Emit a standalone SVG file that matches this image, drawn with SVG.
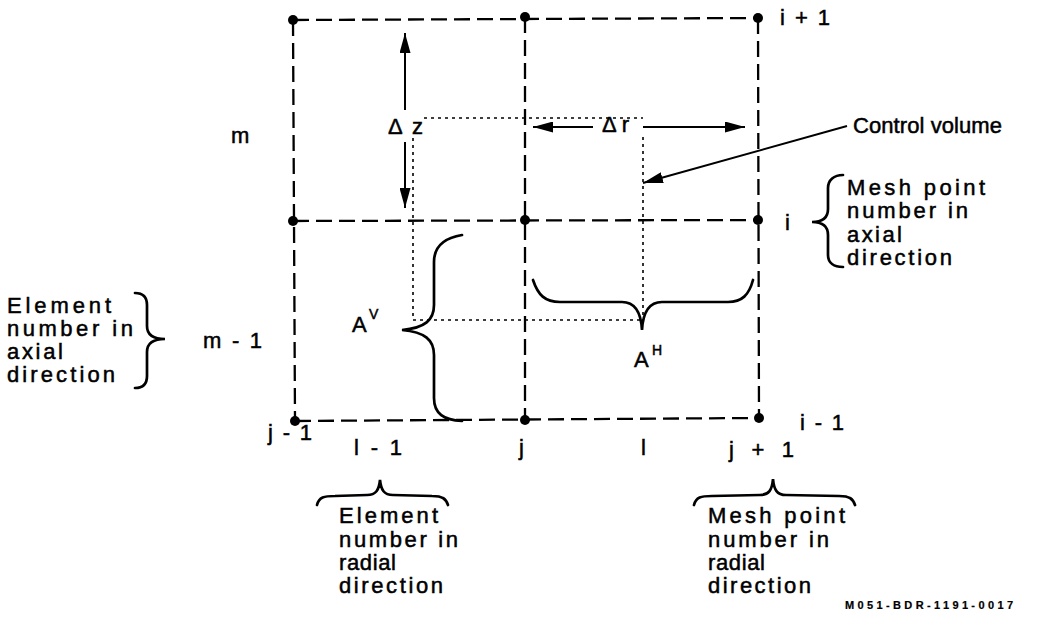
<svg xmlns="http://www.w3.org/2000/svg" width="1048" height="619" viewBox="0 0 1048 619">
<style>
text{font-family:"Liberation Sans",Arial,sans-serif;font-size:22px;fill:#000;stroke:#000;stroke-width:0.5}
.sup{font-size:14px}
.id{font-size:11px;font-weight:bold;stroke-width:0.2}
.grid{stroke:#000;stroke-width:2.3;stroke-dasharray:16 7;fill:none}
.dot{stroke:#000;stroke-width:1.6;stroke-dasharray:3 4;fill:none}
.brace{stroke:#000;stroke-width:2.7;fill:none;stroke-linecap:round}
.arr{stroke:#000;stroke-width:2;fill:none;marker-end:url(#ah)}
.node{fill:#000}
</style>
<defs>
<marker id="ah" markerWidth="20" markerHeight="11" refX="20" refY="5.5" orient="auto" markerUnits="userSpaceOnUse">
<path d="M0,0 L20,5.5 L0,11 z" fill="#000"/>
</marker>
</defs>
<rect width="1048" height="619" fill="#fff"/>
<g id="grid">
<line class="grid" x1="293" y1="20" x2="758" y2="18"/>
<line class="grid" x1="293" y1="221" x2="758" y2="220"/>
<line class="grid" x1="295" y1="421" x2="759" y2="418"/>
<line class="grid" x1="293" y1="20" x2="295" y2="421"/>
<line class="grid" x1="525" y1="17" x2="525" y2="420"/>
<line class="grid" x1="758" y1="18" x2="759" y2="418"/>
</g>
<g id="mesh-points">
<circle class="node" cx="293" cy="20" r="5"/>
<circle class="node" cx="525" cy="17" r="5"/>
<circle class="node" cx="758" cy="18" r="5"/>
<circle class="node" cx="293" cy="221" r="5"/>
<circle class="node" cx="525" cy="220" r="5"/>
<circle class="node" cx="758" cy="220" r="5"/>
<circle class="node" cx="295" cy="421" r="5"/>
<circle class="node" cx="525" cy="420" r="5"/>
<circle class="node" cx="759" cy="418" r="5"/>
</g>
<g id="control-volume">
<path class="dot" d="M424,118 L643,118 M413,138 L413,320 L643,320 M643,137 L643,320"/>
</g>
<g id="connectors">
<line class="arr" x1="405" y1="110" x2="405" y2="33"/>
<line class="arr" x1="405" y1="142" x2="405" y2="208"/>
<line class="arr" x1="593" y1="127" x2="533" y2="127"/>
<line class="arr" x1="643" y1="127" x2="745" y2="127"/>
<line class="arr" x1="847" y1="126" x2="643" y2="183"/>
</g>
<g id="braces">
<path class="brace" d="M135,293 C143,293 147,297 147,305 L147,326 C147,334 152,339 165,339 C152,339 147,344 147,352 L147,376 C147,384 143,388 135,388"/>
<path class="brace" d="M843,175 C834,175 828,180 828,188 L828,209 C828,217 823,222 812,222 C823,222 828,227 828,235 L828,255 C828,263 834,267 843,267"/>
<path class="brace" d="M462,235 C444,238 434,246 434,262 L434,305 C434,320 425,328 402,330 C425,332 434,340 434,355 L434,398 C434,414 444,420 462,421"/>
<path class="brace" d="M533,280 C538,295 545,302 560,302 L622,302 C635,302 641,312 642,330 C643,312 649,302 662,302 L728,302 C742,302 749,295 753,280"/>
<path class="brace" d="M317,505 C319,497 324,496 335,496 L367,495 C376,495 379,490 380,480 C381,490 384,495 393,495 L432,496 C443,496 446,499 448,505"/>
<path class="brace" d="M694,505 C696,497 701,496 712,496 L760,495 C769,495 772,490 773,479 C774,490 777,495 786,495 L839,496 C850,496 853,499 855,505"/>
</g>
<g id="index-labels">
<text x="231" y="143">m</text>
<text x="203" y="348" textLength="59" lengthAdjust="spacing">m - 1</text>
<text x="780" y="25" textLength="50" lengthAdjust="spacing">i + 1</text>
<text x="785" y="230">i</text>
<text x="800" y="430" textLength="44" lengthAdjust="spacing">i - 1</text>
<text x="268" y="440" textLength="44" lengthAdjust="spacing">j - 1</text>
<text x="354" y="455" textLength="48" lengthAdjust="spacing">l - 1</text>
<text x="519" y="455">j</text>
<text x="641" y="455">l</text>
<text x="729" y="457" textLength="65" lengthAdjust="spacing">j + 1</text>
</g>
<g id="delta-labels">
<text x="388" y="134" textLength="35" lengthAdjust="spacing">Δ z</text>
<text x="602" y="132" textLength="27" lengthAdjust="spacing">Δ r</text>
</g>
<g id="area-labels">
<text x="352" y="332">A<tspan class="sup" x="369" y="319">V</tspan></text>
<text x="634" y="367">A<tspan class="sup" x="652" y="355">H</tspan></text>
</g>
<g id="control-volume-label">
<text x="853" y="133" textLength="149" lengthAdjust="spacing">Control volume</text>
</g>
<g id="axial-mesh-label">
<text x="847" y="195" textLength="138" lengthAdjust="spacing">Mesh point</text>
<text x="847" y="218" textLength="121" lengthAdjust="spacing">number in</text>
<text x="847" y="242" textLength="55" lengthAdjust="spacing">axial</text>
<text x="847" y="265" textLength="105" lengthAdjust="spacing">direction</text>
</g>
<g id="axial-element-label">
<text x="7" y="313" textLength="104" lengthAdjust="spacing">Element</text>
<text x="7" y="336" textLength="126" lengthAdjust="spacing">number in</text>
<text x="7" y="359" textLength="56" lengthAdjust="spacing">axial</text>
<text x="7" y="382" textLength="108" lengthAdjust="spacing">direction</text>
</g>
<g id="radial-element-label">
<text x="339" y="523" textLength="99" lengthAdjust="spacing">Element</text>
<text x="339" y="547" textLength="119" lengthAdjust="spacing">number in</text>
<text x="339" y="570" textLength="57" lengthAdjust="spacing">radial</text>
<text x="339" y="593" textLength="104" lengthAdjust="spacing">direction</text>
</g>
<g id="radial-mesh-label">
<text x="708" y="523" textLength="137" lengthAdjust="spacing">Mesh point</text>
<text x="708" y="547" textLength="121" lengthAdjust="spacing">number in</text>
<text x="708" y="570" textLength="57" lengthAdjust="spacing">radial</text>
<text x="708" y="593" textLength="103" lengthAdjust="spacing">direction</text>
</g>
<g id="figure-id">
<text class="id" x="845" y="609" textLength="168" lengthAdjust="spacing">M051-BDR-1191-0017</text>
</g>
</svg>
